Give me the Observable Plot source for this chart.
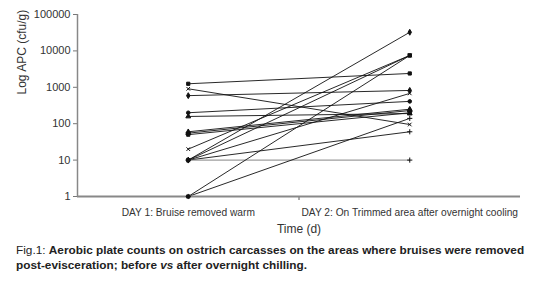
<!DOCTYPE html>
<html>
<head>
<meta charset="utf-8">
<script src="https://cdn.jsdelivr.net/npm/d3@7"></script>
<script src="https://cdn.jsdelivr.net/npm/@observablehq/plot@0.6"></script>
<style>
  body { margin: 0; background: #fff; font-family: "Liberation Sans", Arial, sans-serif; }
  #chart svg { display: block; }
  .cap { margin: 3px 0 0 16px; font-size: 11.8px; line-height: 15px; color: #222; width: 518px; }
  .cap b { font-weight: bold; }
</style>
</head>
<body>
<div id="chart"></div>
<div class="cap">Fig.1: <b>Aerobic plate counts on ostrich carcasses on the areas where bruises were removed post-evisceration; before <i>vs</i> after overnight chilling.</b></div>
<script>
const categories = ["DAY 1: Bruise removed warm", "DAY 2: On Trimmed area after overnight cooling"];
const yTicks = [1, 10, 100, 1000, 10000, 100000];
const day1 = [1250, 910, 590, 200, 158, 60, 55, 50, 20, 10, 10, 10, 10, 10, 1, 1];
const day2 = [2400, 95, 820, 410, 190, 250, 230, 200, 7500, 32500, 7500, 680, 60, 10, 7500, 140];
const symbols = ["square", "times", "diamond", "circle", "triangle", "triangle", "triangle", "square",
                 "times", "diamond", "square", "times", "plus", "plus", "square", "plus"];

const rows = [];
day1.forEach((v, i) => {
  rows.push({series: i, cat: 0, value: v, symbol: symbols[i]});
  rows.push({series: i, cat: 1, value: day2[i], symbol: symbols[i]});
});
const xpos = d => d.cat + 0.5;

const chart = Plot.plot({
  width: 537,
  height: 240,
  marginTop: 14,
  marginBottom: 44,
  marginLeft: 77,
  marginRight: 17,
  style: {fontFamily: "'Liberation Sans', Arial, sans-serif", color: "#333", background: "#fff"},
  x: {type: "linear", domain: [0, 2]},
  y: {type: "log", domain: [1, 100000]},
  symbol: {type: "identity"},
  marks: [
    Plot.axisY({ticks: yTicks, tickFormat: d3.format("d"), tickSize: 4, tickPadding: 3, fontSize: 11, label: null, stroke: "#777"}),
    Plot.axisX({ticks: [0.5, 1.5], tickFormat: v => categories[Math.round(v - 0.5)], tickSize: 0, tickPadding: 12, fontSize: 10.2, label: null}),
    Plot.axisX({ticks: [1], tickFormat: () => "", tickSize: 4, label: null, stroke: "#555"}),
    Plot.ruleX([0], {stroke: "#888", strokeWidth: 1.5}),
    Plot.line(rows, {x: xpos, y: "value", z: "series", stroke: d => d.value === 10 && day2[d.series] === 10 ? "#777" : "#111", strokeWidth: 0.9}),
    Plot.ruleY([1], {stroke: "#888", strokeWidth: 2}),
    Plot.dot(rows, {x: xpos, y: "value", symbol: "symbol", r: 1.8, fill: "#111", stroke: "#111", strokeWidth: 1}),
    Plot.text(["Time (d)"], {frameAnchor: "bottom", dy: 36, fontSize: 12, fill: "#333"}),
    Plot.text(["Log APC (cfu/g)"], {frameAnchor: "left", rotate: -90, dx: -55, dy: -11, fontSize: 12, fill: "#333"})
  ]
});
document.getElementById("chart").appendChild(chart);
</script>
</body>
</html>
